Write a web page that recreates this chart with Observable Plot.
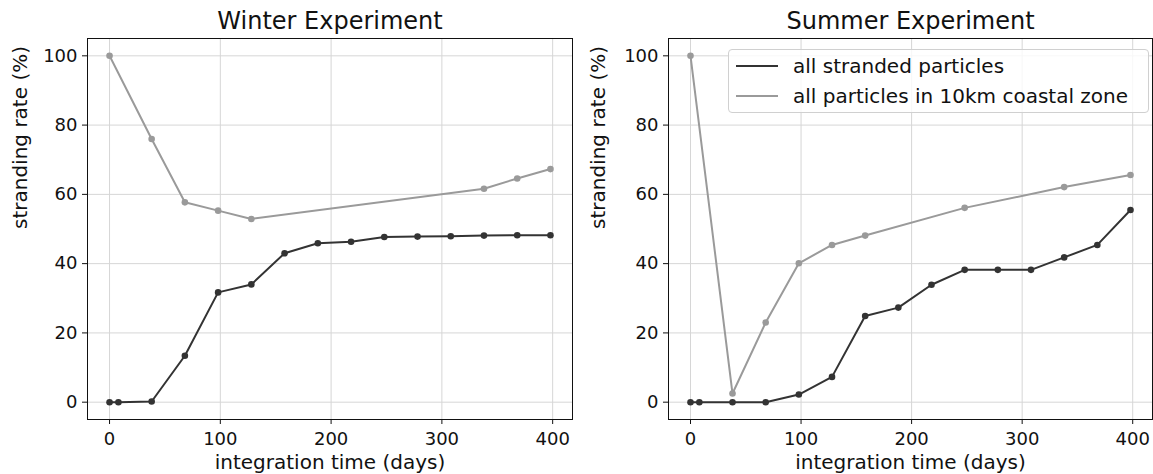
<!DOCTYPE html>
<html>
<head>
<meta charset="utf-8">
<script src="https://cdn.jsdelivr.net/npm/d3@7"></script>
<script src="https://cdn.jsdelivr.net/npm/@observablehq/plot@0.6"></script>
<style>
  body { margin: 0; background: white; }
  #chart { position: relative; width: 1153px; height: 474px; display: flex; font-family: "DejaVu Sans", sans-serif; }
  #legend { position: absolute; left: 728px; top: 49px; width: 421px; height: 64px; box-sizing: border-box;
    border: 1px solid #d0d0d0; border-radius: 4px; background: rgba(255,255,255,0.8); font-size: 20px; color: #111; }
  .row { position: absolute; left: 0; height: 30px; display: flex; align-items: center; }
  .row svg { margin-left: 7px; margin-right: 15px; }
</style>
</head>
<body>
<div id="chart"></div>
<script>
const days = [0, 8, 38, 68, 98, 128, 158, 188, 218, 248, 278, 308, 338, 368, 398];
const winterStranded = [0, 0, 0.2, 13.4, 31.7, 34.0, 43.0, 45.9, 46.3, 47.7, 47.8, 47.9, 48.1, 48.2, 48.2];
const winterCoastalDays = [0, 38, 68, 98, 128, 338, 368, 398];
const winterCoastal = [100, 76, 57.7, 55.3, 52.9, 61.6, 64.6, 67.3];
const summerStranded = [0, 0, 0, 0, 2.2, 7.3, 24.9, 27.3, 33.9, 38.2, 38.2, 38.2, 41.8, 45.4, 55.5];
const summerCoastalDays = [0, 38, 68, 98, 128, 158, 248, 338, 398];
const summerCoastal = [100, 2.5, 23, 40.1, 45.4, 48.1, 56.1, 62.1, 65.6];
const xTicks = [0, 100, 200, 300, 400];
const yTicks = [0, 20, 40, 60, 80, 100];
const titles = ["Winter Experiment", "Summer Experiment"];
const xLabel = "integration time (days)";
const yLabel = "stranding rate (%)";
const seriesNames = ["all stranded particles", "all particles in 10km coastal zone"];
const seriesColors = ["#333333", "#9a9a9a"];

function toRows(xs, ys) { return xs.map((d, i) => ({day: d, rate: ys[i]})); }

function panel(title, stranded, coastal, opts) {
  return Plot.plot({
    width: opts.width, height: 474,
    marginLeft: opts.marginLeft, marginRight: opts.marginRight, marginTop: 38, marginBottom: 55,
    style: {fontFamily: "DejaVu Sans, sans-serif", fontSize: "18px", color: "#111", background: "white"},
    x: {domain: [-19.9, 417.9]},
    y: {domain: [-5, 105]},
    marks: [
      Plot.gridX(xTicks, {stroke: "#d6d6d6", strokeOpacity: 1}),
      Plot.gridY(yTicks, {stroke: "#d6d6d6", strokeOpacity: 1}),
      Plot.line(coastal, {x: "day", y: "rate", stroke: seriesColors[1], strokeWidth: 2}),
      Plot.dot(coastal, {x: "day", y: "rate", fill: seriesColors[1], r: 3.3}),
      Plot.line(stranded, {x: "day", y: "rate", stroke: seriesColors[0], strokeWidth: 2}),
      Plot.dot(stranded, {x: "day", y: "rate", fill: seriesColors[0], r: 3.3}),
      Plot.frame({stroke: "#111"}),
      Plot.axisX(xTicks, {tickSize: 5, tickPadding: 8, label: null, stroke: "#111"}),
      Plot.axisY(yTicks, {tickSize: 5, tickPadding: 5, label: null, stroke: "#111"}),
      Plot.text([xLabel], {frameAnchor: "bottom", lineAnchor: "middle", dy: 43, fontSize: 20, fill: "#111"}),
      Plot.text([yLabel], {frameAnchor: "left", lineAnchor: "middle", dx: opts.yLabelDx, rotate: -90, fontSize: 20, fill: "#111"}),
      Plot.text([title], {frameAnchor: "top", lineAnchor: "middle", dy: -17, fontSize: 24, fill: "#111"})
    ]
  });
}

const chart = document.getElementById("chart");
chart.append(panel(titles[0], toRows(days, winterStranded), toRows(winterCoastalDays, winterCoastal),
  {width: 580, marginLeft: 87, marginRight: 8, yLabelDx: -67}));
chart.append(panel(titles[1], toRows(days, summerStranded), toRows(summerCoastalDays, summerCoastal),
  {width: 573, marginLeft: 88, marginRight: 1, yLabelDx: -70}));

const legend = document.createElement("div");
legend.id = "legend";
seriesNames.forEach((name, i) => {
  const row = document.createElement("div");
  row.className = "row";
  row.style.top = (1 + i * 30) + "px";
  row.innerHTML = `<svg width="42" height="4"><line x1="0" y1="2" x2="42" y2="2" stroke="${seriesColors[i]}" stroke-width="2"/></svg><span>${name}</span>`;
  legend.append(row);
});
chart.append(legend);
</script>
</body>
</html>
